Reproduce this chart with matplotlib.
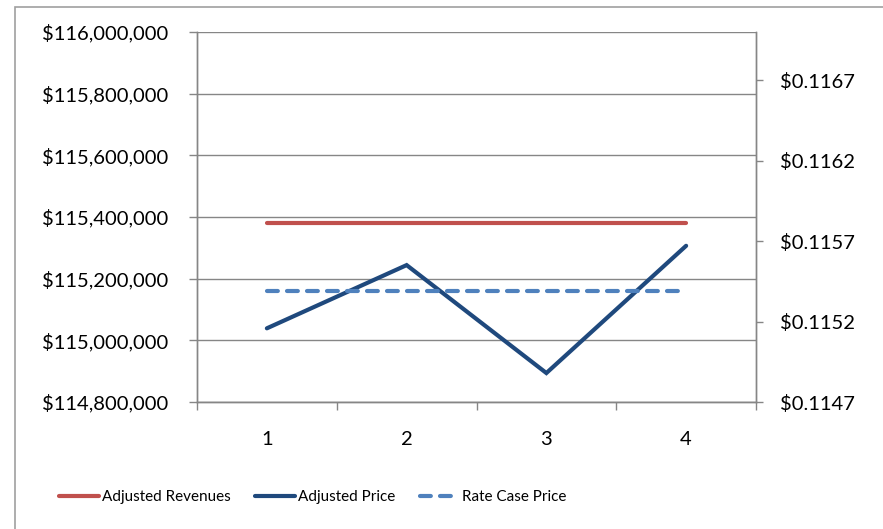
import matplotlib
matplotlib.use('Agg')
import matplotlib.pyplot as plt
from matplotlib.patches import Rectangle
from matplotlib.ticker import FuncFormatter, FixedLocator

plt.rcParams['font.family'] = ['Lato', 'DejaVu Sans']

# 数据
periods = [1, 2, 3, 4]
adjusted_revenues = [115381000, 115381000, 115381000, 115381000]
adjusted_price = [0.115158, 0.115551, 0.114880, 0.115671]
rate_case_price = [0.115388, 0.115388, 0.115388, 0.115388]

rev_ticks = [114800000, 115000000, 115200000, 115400000, 115600000, 115800000, 116000000]
price_ticks = [0.1147, 0.1152, 0.1157, 0.1162, 0.1167]

RED = '#C0504D'
DARK = '#1F497D'
LIGHT = '#4F81BD'
GRID = '#868686'

fig = plt.figure(figsize=(8.83, 5.29), dpi=100)
ax = fig.add_axes([197 / 883, 1 - 402 / 529, (756 - 197) / 883, (402 - 32) / 529])
ax2 = ax.twinx()

ax.plot(periods, adjusted_revenues, color=RED, lw=3, solid_capstyle='round',
        label='Adjusted Revenues', zorder=3)
ax2.plot(periods, adjusted_price, color=DARK, lw=3, solid_capstyle='round',
         solid_joinstyle='miter', label='Adjusted Price', zorder=3)
ax2.plot(periods, rate_case_price, color=LIGHT, lw=3, dashes=(2.6, 2.2),
         dash_capstyle='round', label='Rate Case Price', zorder=3)

ax.set_xlim(0.5, 4.5)
ax.set_ylim(114800000, 116000000)
ax2.set_ylim(0.1147, 0.1170)

ax.set_yticks(rev_ticks)
ax.yaxis.set_major_formatter(FuncFormatter(lambda v, p: '${:,.0f}'.format(v)))
ax2.set_yticks(price_ticks)
ax2.yaxis.set_major_formatter(FuncFormatter(lambda v, p: '${:.4f}'.format(v)))

ax.set_xticks(periods)
ax.xaxis.set_minor_locator(FixedLocator([0.5, 1.5, 2.5, 3.5, 4.5]))
ax.tick_params(axis='x', which='major', length=0, pad=21, labelsize=14.5)
ax.tick_params(axis='x', which='minor', length=6, width=1, color=GRID, direction='out')
ax.tick_params(axis='y', length=6, width=1, color=GRID, pad=15, labelsize=14.5)
ax2.tick_params(axis='y', length=5, width=1, color=GRID, pad=12, labelsize=14.5)

ax.grid(axis='y', color=GRID, lw=1)
ax.set_axisbelow(True)
for a in (ax, ax2):
    a.spines['top'].set_visible(False)
    for s in ('left', 'right', 'bottom'):
        a.spines[s].set_color(GRID)
        a.spines[s].set_linewidth(1)

# 图例
h1, l1 = ax.get_legend_handles_labels()
h2, l2 = ax2.get_legend_handles_labels()
fig.legend(h1 + h2, l1 + l2, loc='center', bbox_to_anchor=(313 / 883, 1 - 497 / 529),
           ncol=3, frameon=False, fontsize=11, handlelength=2.6, handletextpad=0.2,
           columnspacing=1.6)

# 外框
fig.patches.append(Rectangle((15 / 883, -0.1), 1.2, 1.1 - 7 / 529, transform=fig.transFigure,
                             fill=False, edgecolor='#A0A0A0', lw=1.2))

plt.savefig('out.png', dpi=100)
